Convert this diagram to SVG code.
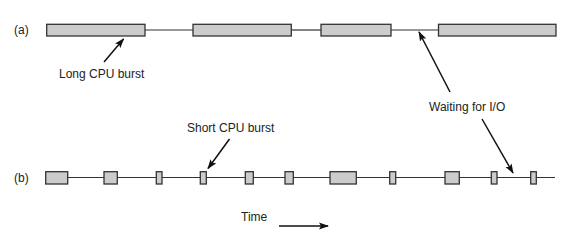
<svg xmlns="http://www.w3.org/2000/svg" width="571" height="235" viewBox="0 0 571 235">
<style>
text{font-family:"Liberation Sans",Arial,sans-serif;font-size:12px;fill:#222}
.bar{fill:#cccccc;stroke:#333;stroke-width:1.3}
.tl{stroke:#333;stroke-width:1.2;fill:none}
.ar{stroke:#111;stroke-width:1.5;fill:none;marker-end:url(#ah)}
</style>
<defs>
<marker id="ah" markerWidth="10" markerHeight="8" refX="9" refY="4" orient="auto" markerUnits="userSpaceOnUse">
<path d="M0,0.5 L10,4 L0,7.5 L2,4 Z" fill="#111"/>
</marker>
</defs>
<rect width="571" height="235" fill="#fff"/>
<g id="connectors">
<line class="tl" x1="145" y1="30" x2="193" y2="30"/>
<line class="tl" x1="291" y1="30" x2="321" y2="30"/>
<line class="tl" x1="391" y1="30" x2="438" y2="30"/>
<line class="tl" x1="46" y1="177.5" x2="555" y2="177.5"/>
<line class="ar" x1="104" y1="62" x2="123.5" y2="39"/>
<line class="ar" x1="450" y1="92" x2="419" y2="32"/>
<line class="ar" x1="482" y1="119" x2="513" y2="173"/>
<line class="ar" x1="229.5" y1="139" x2="208" y2="168.5"/>
<line class="ar" x1="279" y1="226" x2="328" y2="226"/>
</g>
<g id="row-a">
<text x="14" y="34">(a)</text>
<rect class="bar" x="46.7" y="24.3" width="98.3" height="11.7"/>
<rect class="bar" x="193" y="24.3" width="98.3" height="11.7"/>
<rect class="bar" x="321" y="24.3" width="70" height="11.7"/>
<rect class="bar" x="438.5" y="24.3" width="117.5" height="11.7"/>
</g>
<g id="row-b">
<text x="14" y="182">(b)</text>
<rect class="bar" x="45.7" y="171.7" width="22" height="12.3"/>
<rect class="bar" x="104" y="171.7" width="13.3" height="12.3"/>
<rect class="bar" x="156.3" y="171.7" width="5.7" height="12.3"/>
<rect class="bar" x="200.3" y="171.7" width="6" height="12.3"/>
<rect class="bar" x="245.3" y="171.7" width="8" height="12.3"/>
<rect class="bar" x="285" y="171.7" width="8.3" height="12.3"/>
<rect class="bar" x="330" y="171.7" width="26.3" height="12.3"/>
<rect class="bar" x="389.7" y="171.7" width="6" height="12.3"/>
<rect class="bar" x="445" y="171.7" width="14.3" height="12.3"/>
<rect class="bar" x="491.3" y="171.7" width="5.7" height="12.3"/>
<rect class="bar" x="530.7" y="171.7" width="5.6" height="12.3"/>
</g>
<g id="labels">
<text x="59" y="78">Long CPU burst</text>
<text x="429" y="111">Waiting for I/O</text>
<text x="187" y="132">Short CPU burst</text>
<text x="241" y="221">Time</text>
</g>
</svg>
